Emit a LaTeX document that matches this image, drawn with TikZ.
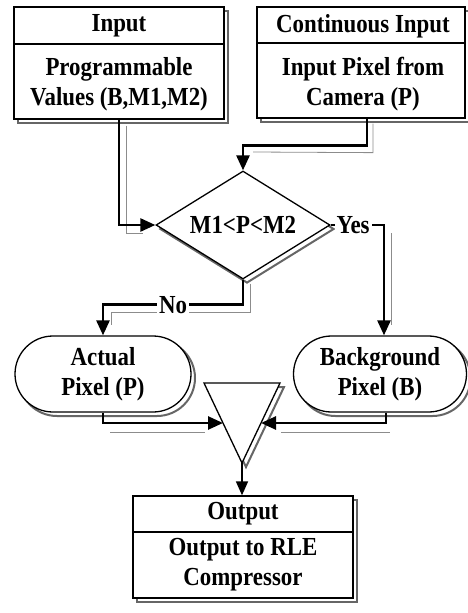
\documentclass[tikz,border=0pt]{standalone}
\usepackage{fontspec}
\setmainfont{Liberation Serif}[FakeStretch=0.88]
\usetikzlibrary{arrows.meta,shapes.geometric,shapes.misc,calc}

\begin{document}
\begin{tikzpicture}[x=1pt,y=-1pt,
  txt/.style={font=\bfseries\fontsize{26}{30}\selectfont, align=center, inner sep=0pt},
  box/.style={draw, line width=1.3pt, fill=white, inner sep=0pt},
  shadebox/.style={draw=black!60, line width=2pt, fill=none, inner sep=0pt},
  flow/.style={line width=2.6pt, -{Triangle[length=15pt,width=13pt]}},
  thinflow/.style={line width=1.6pt, -{Triangle[length=14pt,width=12pt]}},
  ghost/.style={black!45, line width=0.8pt},
  lbl/.style={txt, fill=white, inner xsep=2pt, inner ysep=1pt}
]
\useasboundingbox (0,0) rectangle (467,613);

% ---- input boxes ----
\node[shadebox, minimum width=210, minimum height=112] (inboxsh) at (123,67) {};
\node[box, minimum width=210, minimum height=112] (inbox) at (119,63) {};
\draw[line width=1.3pt] (inbox.west |- 0,44) -- (inbox.east |- 0,44);
\node[txt] (intitle) at (119,26) {Input};
\node[txt] (inbody) at (119,84) {Programmable\\Values (B,M1,M2)};

\node[shadebox, minimum width=208, minimum height=111] (contsh) at (365,66.5) {};
\node[box, minimum width=208, minimum height=111] (cont) at (361,62.5) {};
\draw[line width=1.3pt] (cont.west |- 0,43) -- (cont.east |- 0,43);
\node[txt] (conttitle) at (363,26) {Continuous Input};
\node[txt] (contbody) at (363,84) {Input Pixel from\\Camera (P)};

% ---- decision ----
\node[shadebox, diamond, aspect=1.6, minimum width=174, minimum height=108] (diash) at (247,229) {};
\node[box, diamond, aspect=1.6, minimum width=174, minimum height=108, txt] (dia) at (243,225) {M1<P<M2};

% ---- pixel choices ----
\node[shadebox, rounded rectangle, minimum width=176, minimum height=76] (actsh) at (107,378) {};
\node[box, rounded rectangle, txt, minimum width=176, minimum height=76] (act) at (103,374) {Actual\\Pixel (P)};
\node[shadebox, rounded rectangle, minimum width=173, minimum height=76] (bgsh) at (384,378) {};
\node[box, rounded rectangle, txt, minimum width=173, minimum height=76] (bg) at (380,374) {Background\\Pixel (B)};

% ---- merge triangle ----
\coordinate (ta) at (204,383);
\coordinate (tc) at (280,383);
\coordinate (tb) at (242,463);
\coordinate (ml) at ($(ta)!0.5!(tb)$);
\coordinate (mr) at ($(tc)!0.5!(tb)$);
\draw[black!60, line width=2pt] ($(ta)+(4,4)$) -- ($(tc)+(4,4)$) -- ($(tb)+(4,4)$) -- cycle;
\draw[line width=1.3pt, fill=white] (ta) -- (tc) -- (tb) -- cycle;

% ---- output box ----
\node[shadebox, minimum width=220, minimum height=102] (outsh) at (247,551) {};
\node[box, minimum width=220, minimum height=102] (out) at (243,547) {};
\draw[line width=1.3pt] (out.west |- 0,532) -- (out.east |- 0,532);
\node[txt] (outtitle) at (243,514) {Output};
\node[txt] (outbody) at (243,565) {Output to RLE\\Compressor};

% ---- connector shadows ----
\draw[ghost] ($(inbox.south)+(7,6)$) |- ($(dia.west)+(-12,8)$);
\draw[ghost] ($(cont.south)+(12,5)$) -- ++(0,29) -- ($(dia.north |- 0,152)+(10,0)$);
\draw[ghost] ($(dia.south)+(7,4)$) -- ++(0,29) -| ($(act.north)+(8,-10)$);
\draw[ghost] ($(bg.north |- dia.east)+(11,8)$) -- ($(bg.north)+(11,-10)$);
\draw[ghost] ($(act.south |- ml)+(7,9)$) -- ($(ml)+(-18,9)$);
\draw[ghost] ($(mr)+(20,9)$) -- ($(bg.south |- mr)+(10,9)$);

% ---- connectors ----
\draw[flow] (inbox.south) |- (dia.west);
\draw[flow] ([xshift=6pt]cont.south) -- ++(0,27) -| (dia.north);
\draw[flow] (dia.south) -- ++(0,25) -| node[lbl, pos=0.25] (nolbl) {No} (act.north);
\draw[flow] (dia.east) -| node[lbl, pos=0.21] (yeslbl) {Yes} ([xshift=4pt]bg.north);
\draw[flow] (act.south) |- (ml);
\draw[flow] ([xshift=6pt]bg.south) |- (mr);
\draw[thinflow] (tb) -- (tb |- out.north);
\end{tikzpicture}
\end{document}
